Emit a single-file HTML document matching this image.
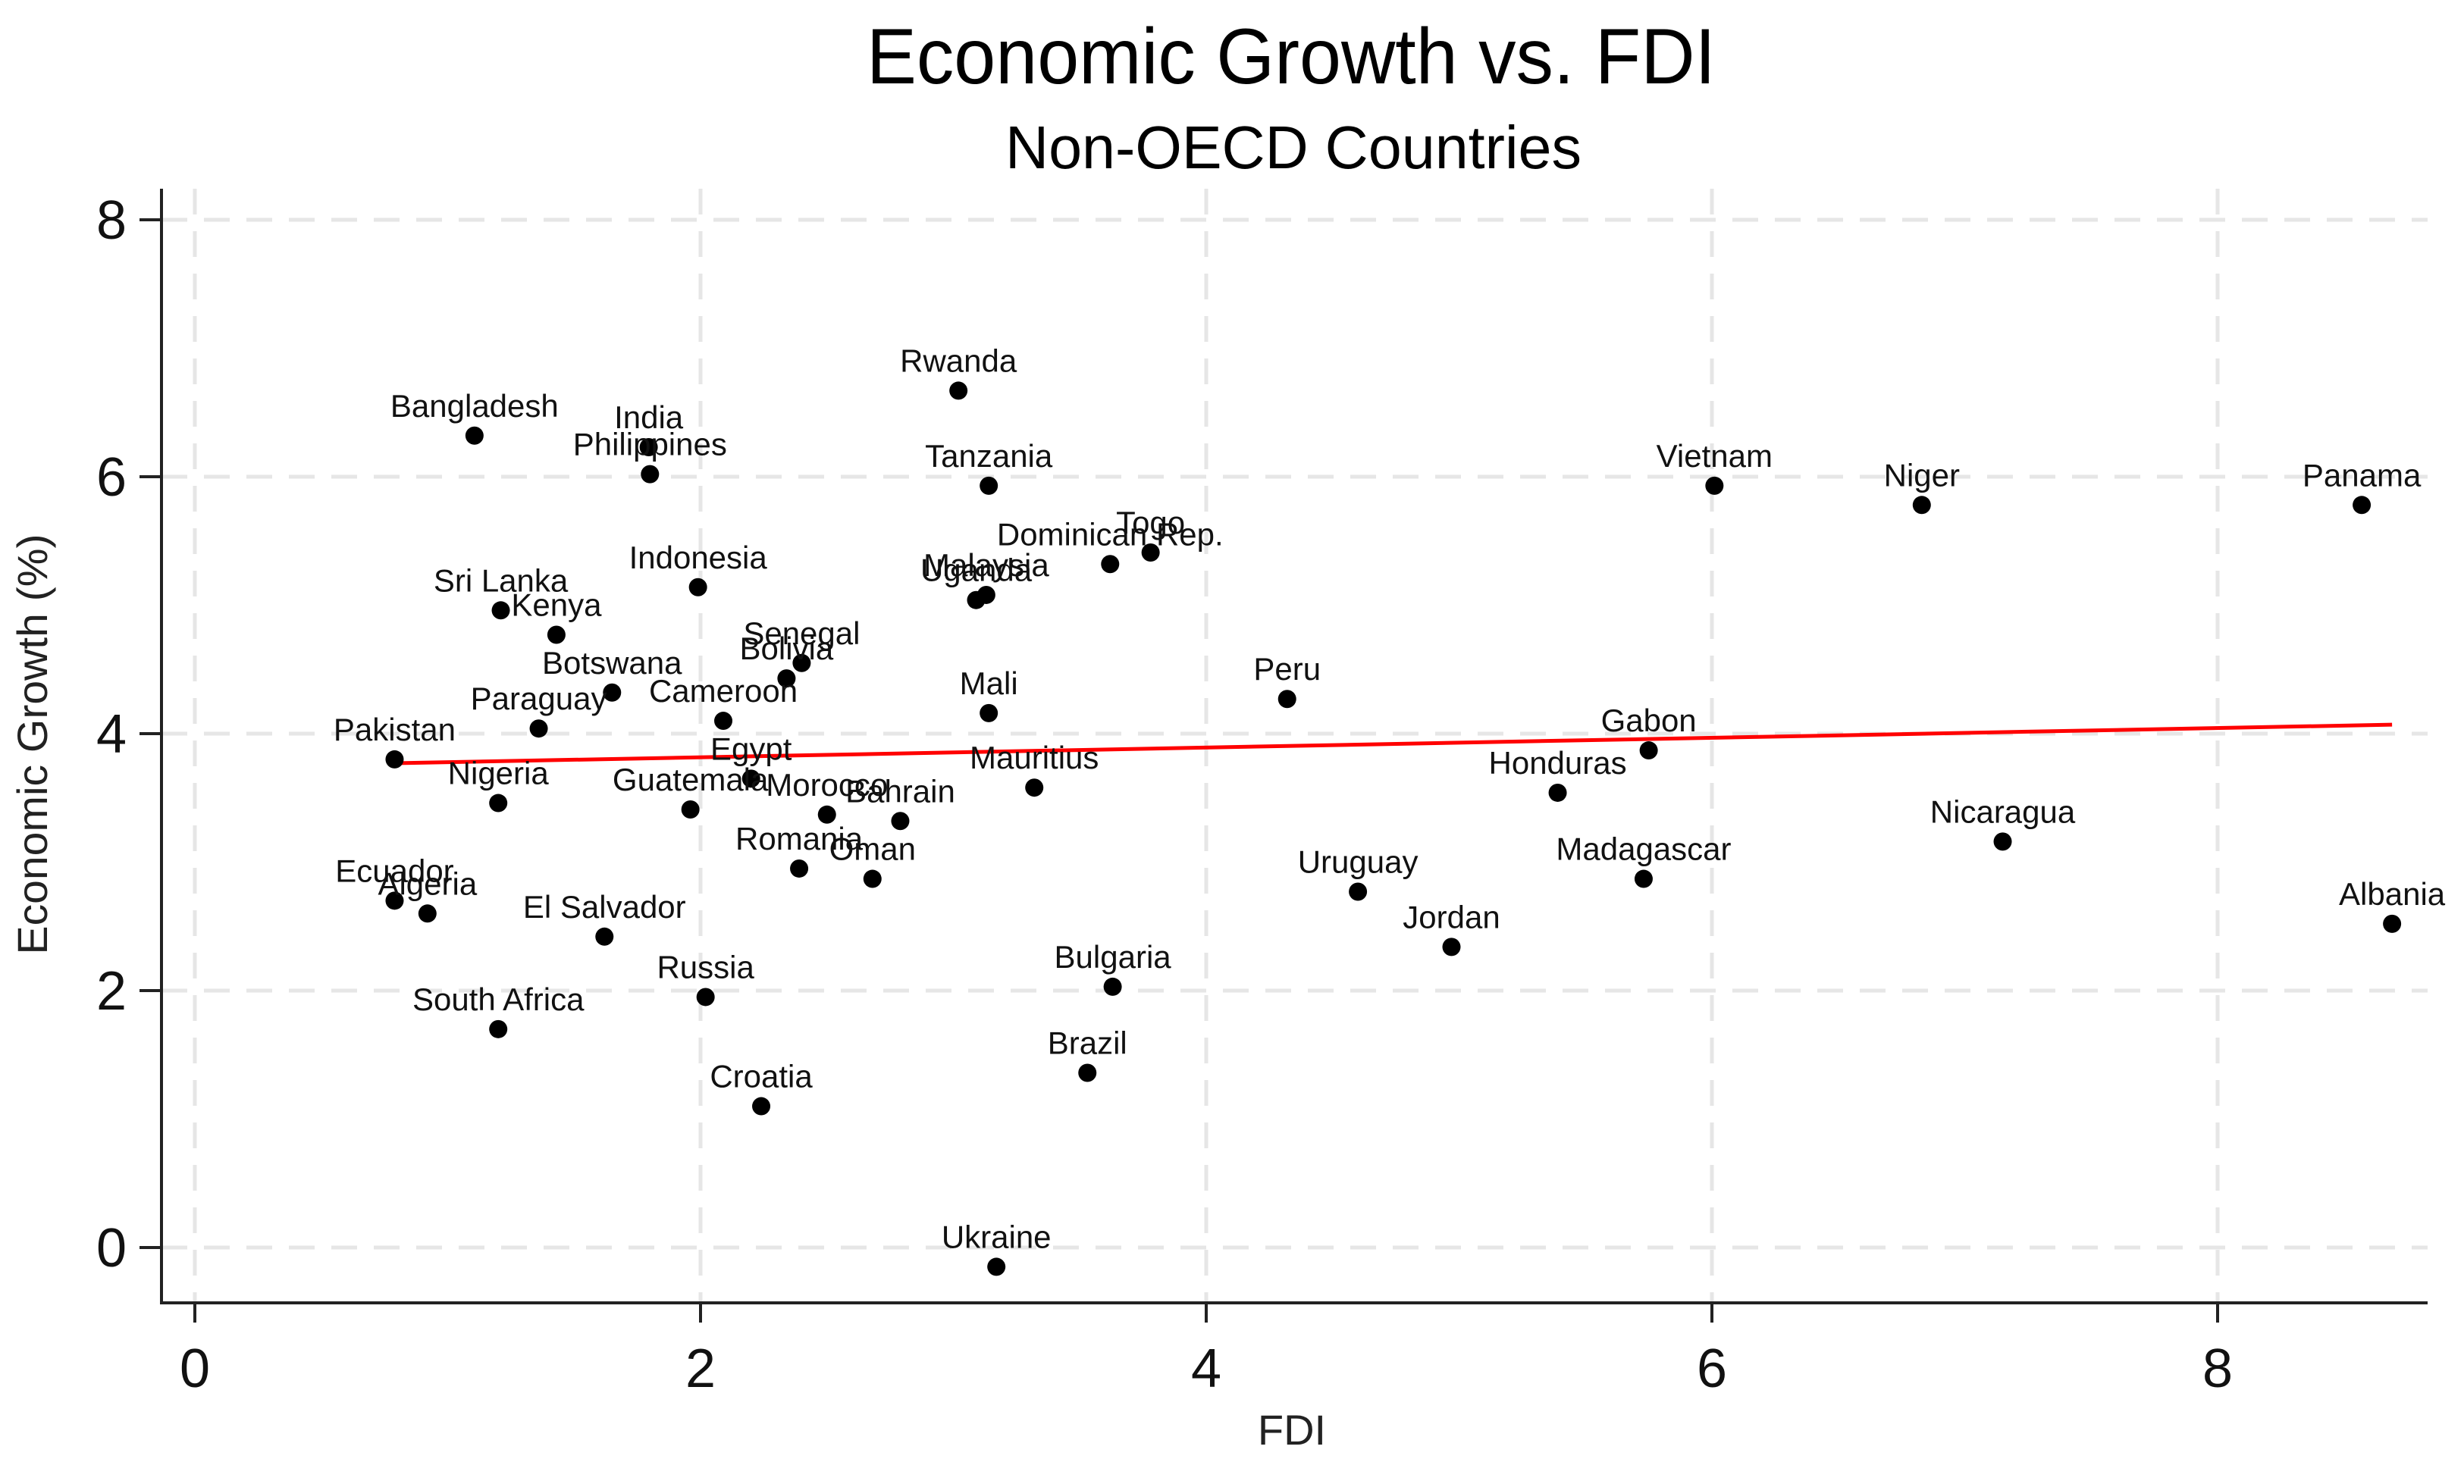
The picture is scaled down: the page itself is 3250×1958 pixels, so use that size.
<!DOCTYPE html>
<html><head><meta charset="utf-8"><style>
html,body{margin:0;padding:0;background:#fff;}
svg{display:block;font-family:"Liberation Sans",Arial,sans-serif;}
</style></head><body>
<svg id="chart" width="3250" height="1958" viewBox="0 0 3250 1958" xmlns="http://www.w3.org/2000/svg">
<rect width="3250" height="1958" fill="#fff"/>
<text x="1703" y="110" font-size="104" text-anchor="middle" textLength="1120" lengthAdjust="spacingAndGlyphs">Economic Growth vs. FDI</text>
<text x="1706" y="222" font-size="80" text-anchor="middle" textLength="760" lengthAdjust="spacingAndGlyphs">Non-OECD Countries</text>
<g id="grid"></g>
<g id="axes"></g>
<g id="fit"></g>
<g id="points"></g>
<text transform="translate(62,982) rotate(-90)" font-size="56" text-anchor="middle" textLength="555" lengthAdjust="spacingAndGlyphs" fill="#222">Economic Growth (%)</text>
<text x="1704" y="1906" font-size="56" text-anchor="middle" fill="#222">FDI</text>
</svg>
<script>
const countries = ["Bangladesh","India","Philippines","Rwanda","Tanzania","Vietnam","Niger","Panama","Togo","Dominican Rep.","Malaysia","Uganda","Indonesia","Sri Lanka","Kenya","Senegal","Bolivia","Botswana","Cameroon","Mali","Peru","Paraguay","Pakistan","Gabon","Egypt","Mauritius","Honduras","Nigeria","Guatemala","Morocco","Bahrain","Nicaragua","Romania","Oman","Madagascar","Uruguay","Ecuador","Algeria","Albania","El Salvador","Jordan","Bulgaria","Russia","South Africa","Brazil","Croatia","Ukraine"];
const fdi = [1.106,1.795,1.80,3.02,3.14,6.01,6.83,8.57,3.78,3.62,3.13,3.09,1.99,1.21,1.43,2.40,2.34,1.65,2.09,3.14,4.32,1.36,0.79,5.75,2.20,3.32,5.39,1.20,1.96,2.50,2.79,7.15,2.39,2.68,5.73,4.60,0.79,0.92,8.69,1.62,4.97,3.63,2.02,1.20,3.53,2.24,3.17];
const growth = [6.32,6.23,6.02,6.67,5.93,5.93,5.78,5.78,5.41,5.32,5.08,5.04,5.14,4.96,4.77,4.55,4.43,4.32,4.10,4.16,4.27,4.04,3.80,3.87,3.65,3.58,3.54,3.46,3.41,3.37,3.32,3.16,2.95,2.87,2.87,2.77,2.70,2.60,2.52,2.42,2.34,2.03,1.95,1.70,1.36,1.10,-0.15];
const fitX = [0.79,8.69];
const fitY = [3.77,4.07];
const xTicks = [0,2,4,6,8];
const yTicks = [0,2,4,6,8];

const NS="http://www.w3.org/2000/svg";
const sx = v => 257 + v*333.5;
const sy = v => 1646 - v*169.5;
const L=213, B=1719, T=249, R=3202;
function mk(tag, attrs, parent){const e=document.createElementNS(NS,tag);for(const k in attrs)e.setAttribute(k,attrs[k]);parent.appendChild(e);return e;}
const grid=document.getElementById('grid'), axes=document.getElementById('axes'), fitG=document.getElementById('fit'), pts=document.getElementById('points');

yTicks.forEach(t=>{
  const g=mk('line',{x1:L,x2:R,y1:sy(t),y2:sy(t),stroke:'#e6e6e6','stroke-width':5,'stroke-dasharray':'34 22'},grid);
  
  
  const tk=mk('line',{x1:184,x2:L,y1:sy(t),y2:sy(t),stroke:'#222','stroke-width':4},axes);
  
  
  const lb=mk('text',{x:167,y:sy(t)+25,'font-size':72,'text-anchor':'end',fill:'#111'},axes);
  lb.textContent=t;
  
  
});
xTicks.forEach(t=>{
  const g=mk('line',{x1:sx(t),x2:sx(t),y1:T,y2:B,stroke:'#e6e6e6','stroke-width':5,'stroke-dasharray':'34 22'},grid);
  
  
  const tk=mk('line',{x1:sx(t),x2:sx(t),y1:B,y2:1745,stroke:'#222','stroke-width':4},axes);
  
  
  const lb=mk('text',{x:sx(t),y:1830,'font-size':72,'text-anchor':'middle',fill:'#111'},axes);
  lb.textContent=t;
  
  
});
const ya=mk('line',{x1:L,x2:L,y1:T,y2:B+2,stroke:'#222','stroke-width':4},axes);


const xa=mk('line',{x1:L-2,x2:R,y1:B,y2:B,stroke:'#222','stroke-width':4},axes);



const fl=mk('line',{x1:sx(fitX[0]),y1:sy(fitY[0]),x2:sx(fitX[1]),y2:sy(fitY[1]),stroke:'#ff0000','stroke-width':5},fitG);



countries.forEach((c,i)=>{
  const cx=sx(fdi[i]), cy=sy(growth[i]);
  const d=mk('circle',{cx:cx,cy:cy,r:12,fill:'#000'},pts);
  
  
  const t=mk('text',{x:cx,y:cy-25,'font-size':42,'text-anchor':'middle',fill:'#111'},pts);
  t.textContent=c;
  
  
});
</script>
</body></html>
